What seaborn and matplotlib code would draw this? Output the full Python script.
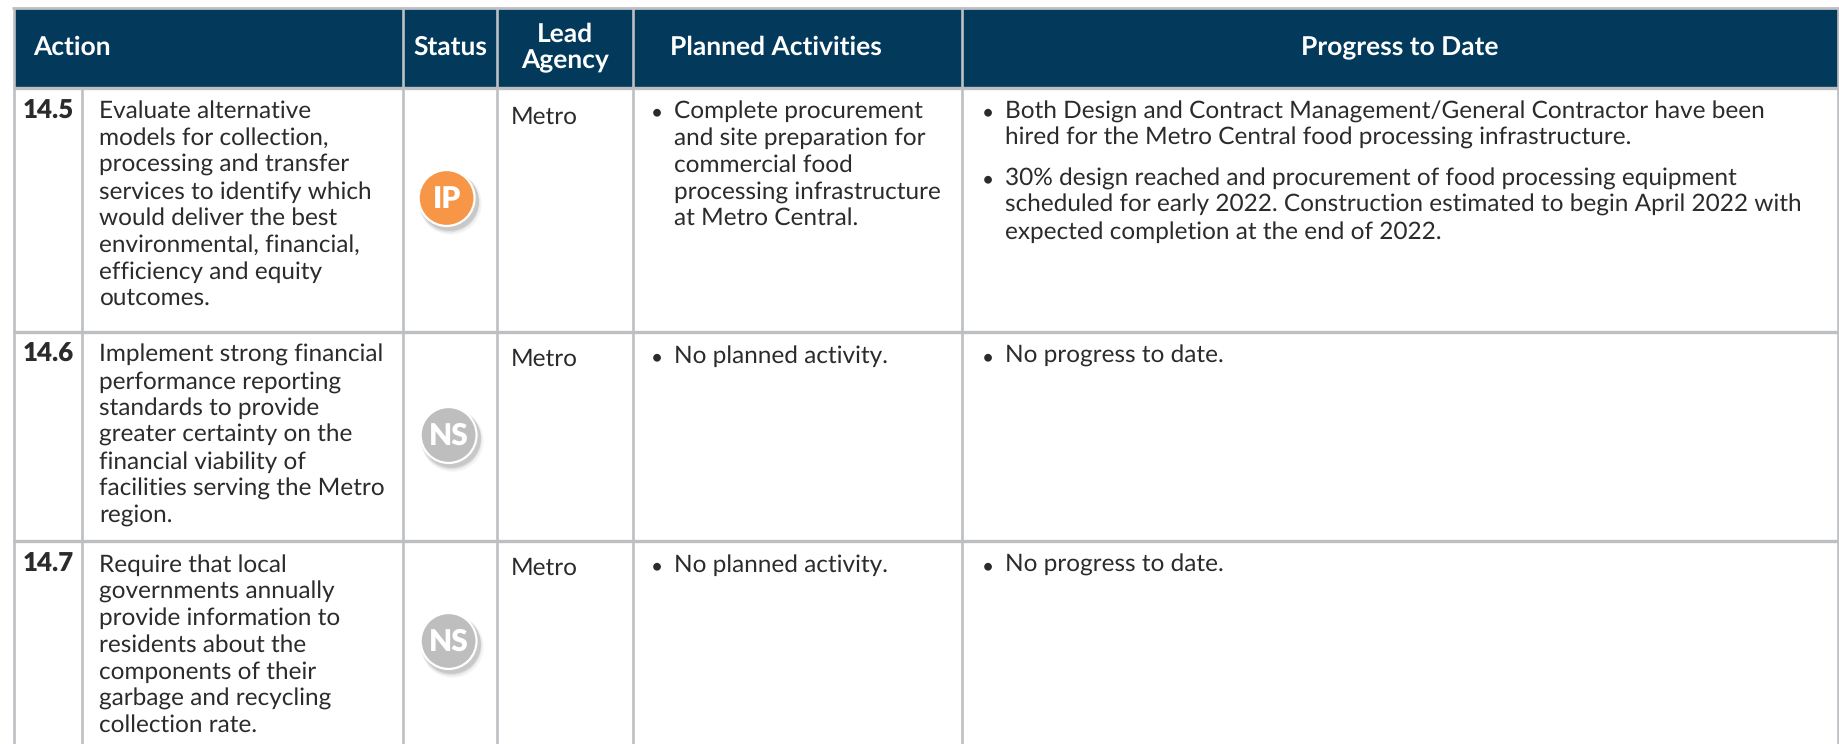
import pandas as pd
import seaborn as sns
import matplotlib.pyplot as plt

# Table content
action_ids = ["14.5", "14.6", "14.7"]
action_text = [
    ["Evaluate alternative", "models for collection,", "processing and transfer", "services to identify which",
     "would deliver the best", "environmental, financial,", "efficiency and equity", "outcomes."],
    ["Implement strong financial", "performance reporting", "standards to provide", "greater certainty on the",
     "financial viability of", "facilities serving the Metro", "region."],
    ["Require that local", "governments annually", "provide information to", "residents about the",
     "components of their", "garbage and recycling", "collection rate."],
]
status = ["IP", "NS", "NS"]
lead_agency = ["Metro", "Metro", "Metro"]
planned = [
    [["Complete procurement", "and site preparation for", "commercial food",
      "processing infrastructure", "at Metro Central."]],
    [["No planned activity."]],
    [["No planned activity."]],
]
progress = [
    [["Both Design and Contract Management/General Contractor have been",
      "hired for the Metro Central food processing infrastructure."],
     ["30% design reached and procurement of food processing equipment",
      "scheduled for early 2022. Construction estimated to begin April 2022 with",
      "expected completion at the end of 2022."]],
    [["No progress to date."]],
    [["No progress to date."]],
]

# Layout in pixels
W, H = 1839, 744
NAVY = "#033a5c"
GRID = "#bdbfc3"
INK = "#2b2b2b"
col_edges = [14, 403, 497, 633, 962, 1838]
id_edge = 82
row_edges = [88, 332, 541]
first_base = [118.3, 361.7, 571.7]
metro_base = [123.7, 366, 575]
badge_x = [446.6, 448.6, 448.6]
badge_y = [198, 435, 641]
step = 26.7
BODY = 17.55

sns.set_theme(style="white")
plt.rcParams['font.family'] = ['Lato', 'DejaVu Sans']
plt.rcParams['text.hinting'] = 'no_hinting'

fig = plt.figure(figsize=(W / 100, H / 100), dpi=100)
ax = fig.add_axes([0, 0, 1, 1])
ax.set_xlim(0, W)
ax.set_ylim(H, 0)
ax.axis('off')

# Header band and grid
ax.axhspan(8, 87, xmin=14 / W, xmax=1838 / W, color=NAVY, lw=0, zorder=1)
ax.hlines([7.5], 12, 1839, color=GRID, lw=2, zorder=2)
ax.hlines(row_edges, 13, 1839, color=GRID, lw=2.4, zorder=2)
ax.vlines(col_edges, 7, H, color=GRID, lw=1.9, zorder=2)
ax.vlines([id_edge], 88, H, color=GRID, lw=1.9, zorder=2)

# Header labels
head = dict(color="white", fontweight='bold', fontsize=19, va='baseline', zorder=5)
ax.text(33.5, 55, "Action", ha='left', **head)
ax.text(450.6, 55, "Status", ha='center', **head)
ax.text(565, 41.7, "Lead", ha='center', **head)
ax.text(565, 68, "Agency", ha='center', **head)
ax.text(776, 55, "Planned Activities", ha='center', **head)
ax.text(1400, 55, "Progress to Date", ha='center', **head)

body = dict(color=INK, fontsize=BODY, va='baseline', ha='left', zorder=5)


def bullets(paragraphs, x_dot, x_text, y):
    for para in paragraphs:
        ax.text(x_dot, y - 5.5, "\u2022", color=INK, fontsize=15, ha='center', va='center', zorder=5)
        for line in para:
            ax.text(x_text, y, line, **body)
            y += step
        y += 13.5


for i in range(3):
    ax.text(22.5, first_base[i], action_ids[i], color=INK, fontsize=18.6, fontweight='heavy',
            va='baseline', ha='left', zorder=5)
    for j, line in enumerate(action_text[i]):
        ax.text(99.5, first_base[i] + j * step, line, **body)
    ax.text(510.7, metro_base[i], lead_agency[i], **body)
    start = first_base[i] if i == 0 else metro_base[i] - 3
    bullets(planned[i], 656.5, 674, start)
    bullets(progress[i], 988, 1005, start)

# Status badges
badges = pd.DataFrame({"x": badge_x, "y": badge_y, "status": status})
for off, alpha, grow in [(5, 0.06, 1.12), (4, 0.10, 1.05), (3, 0.16, 1.0)]:
    shadow = badges.assign(x=badges.x + off * 0.7, y=badges.y + off)
    sns.scatterplot(data=shadow, x="x", y="y", s=1800 * grow, color="#444444", alpha=alpha,
                    linewidth=0, legend=False, ax=ax, zorder=3)
sns.scatterplot(data=badges, x="x", y="y", hue="status", palette={"IP": "#f79646", "NS": "#bebebe"},
                s=1620, edgecolor="white", linewidth=1.6, legend=False, ax=ax, zorder=4)
for x, y, label in zip(badge_x, badge_y, status):
    ax.text(x, y + 1, label, color="white", fontweight='heavy', fontsize=21.5, ha='center', va='center', zorder=5)

ax.set_xlim(0, W)
ax.set_ylim(H, 0)
ax.axis('off')
fig.savefig("out.png", dpi=100, facecolor="white")
